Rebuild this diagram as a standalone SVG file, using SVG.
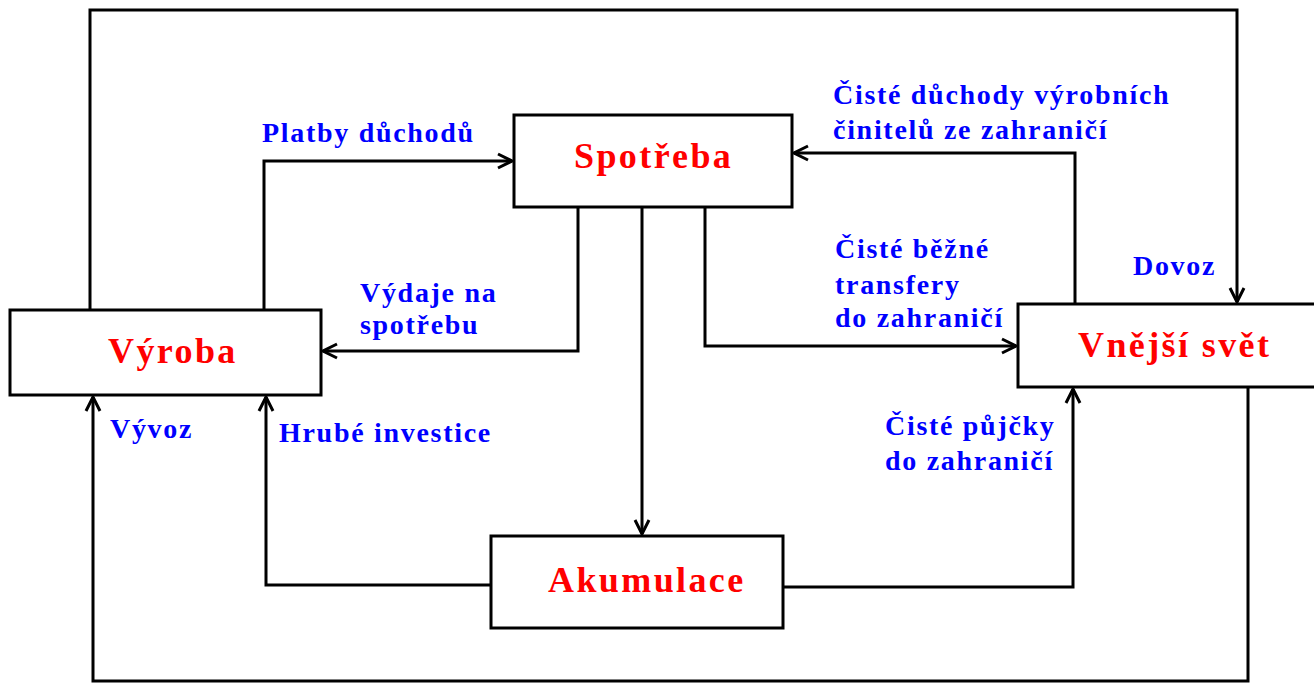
<svg xmlns="http://www.w3.org/2000/svg" width="1314" height="683" viewBox="0 0 1314 683">
<style>
.box{fill:#fff;stroke:#000;stroke-width:3}
.c{fill:none;stroke:#000;stroke-width:3;marker-end:url(#ah)}
.cn{fill:none;stroke:#000;stroke-width:3}
.t{font-family:"Liberation Serif",serif;font-weight:bold;font-size:36px;fill:#ff0000;letter-spacing:2.4px}
.l{font-family:"Liberation Serif",serif;font-weight:bold;font-size:28px;fill:#0000ff;letter-spacing:1.7px}
</style>
<defs>
<marker id="ah" markerUnits="userSpaceOnUse" markerWidth="20" markerHeight="20" viewBox="-16 -10 18 20" refX="0" refY="0" orient="auto">
<path d="M-14,-7 L0,0 L-14,7" fill="none" stroke="#000" stroke-width="3"/>
</marker>
</defs>
<rect width="1314" height="683" fill="#fff"/>
<g id="connectors">
<path class="c" d="M90,310 V10 H1237 V302"/>
<path class="c" d="M1248,387 V681 H93 V397"/>
<path class="c" d="M264,310 V161 H512"/>
<path class="c" d="M578,207 V351 H323"/>
<path class="c" d="M642,207 V534"/>
<path class="c" d="M705,207 V346 H1016"/>
<path class="c" d="M1075,304 V153 H794"/>
<path class="c" d="M491,585 H266 V397"/>
<path class="c" d="M783,587 H1073 V389"/>
</g>
<g id="vyroba">
<rect class="box" x="10" y="310" width="311" height="85"/>
<text class="t" x="108" y="363">Výroba</text>
</g>
<g id="spotreba">
<rect class="box" x="514" y="115" width="278" height="92"/>
<text class="t" x="574" y="168">Spotřeba</text>
</g>
<g id="vnejsi-svet">
<rect class="box" x="1018" y="304" width="300" height="83"/>
<text class="t" x="1078" y="357">Vnější svět</text>
</g>
<g id="akumulace">
<rect class="box" x="491" y="536" width="292" height="92"/>
<text class="t" x="548" y="592">Akumulace</text>
</g>
<g id="labels">
<text class="l" x="262" y="142">Platby důchodů</text>
<text class="l" x="833" y="104">Čisté důchody výrobních</text>
<text class="l" x="833" y="139">činitelů ze zahraničí</text>
<text class="l" x="360" y="302">Výdaje na</text>
<text class="l" x="360" y="334">spotřebu</text>
<text class="l" x="835" y="258">Čisté běžné</text>
<text class="l" x="835" y="294">transfery</text>
<text class="l" x="835" y="327">do zahraničí</text>
<text class="l" x="1133" y="275">Dovoz</text>
<text class="l" x="110" y="438">Vývoz</text>
<text class="l" x="279" y="442">Hrubé investice</text>
<text class="l" x="885" y="435">Čisté půjčky</text>
<text class="l" x="885" y="470">do zahraničí</text>
</g>
</svg>
